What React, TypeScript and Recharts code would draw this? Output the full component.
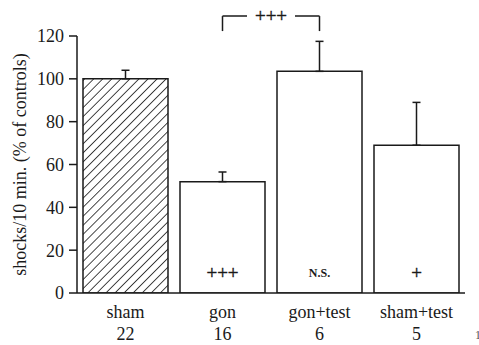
import { BarChart, Bar, XAxis, YAxis, ErrorBar, Cell, LabelList, ReferenceLine } from 'recharts'

const GROUPS = ['sham', 'gon', 'gon+test', 'sham+test']
const COUNTS = ['22', '16', '6', '5']
const MEANS = [100, 52, 103.5, 69]
const ERRORS = [4, 4.5, 14, 20]
const MARKS = ['', '+++', 'N.S.', '+']
const Y_TICKS = [0, 20, 40, 60, 80, 100, 120]

const data = GROUPS.map((g, i) => ({
  name: g,
  value: MEANS[i],
  err: [0, ERRORS[i]],
  mark: MARKS[i],
}))

const FONT = '"Liberation Serif", "Times New Roman", serif'
const INK = '#1a1a1a'

function GroupTick({ x, y, payload, index }: any) {
  return (
    <g>
      <text x={x} y={y + 17} textAnchor="middle" fontFamily={FONT} fontSize={18} fill={INK}>
        {payload.value}
      </text>
      <text x={x} y={y + 39} textAnchor="middle" fontFamily={FONT} fontSize={18} fill={INK}>
        {COUNTS[index]}
      </text>
    </g>
  )
}

function MarkLabel({ x, y, width, height, value }: any) {
  if (!value) return null
  const small = value === 'N.S.'
  return (
    <text
      x={x + width / 2} y={y + height - (small ? 16 : 14)}
      textAnchor="middle" fontFamily={FONT}
      fontSize={small ? 12 : 19} fontWeight={small ? 700 : 400} fill={INK}
      stroke={small ? 'none' : INK} strokeWidth={0.4}
    >{value}</text>
  )
}

function BracketLabel({ viewBox }: any) {
  const cx = viewBox.x + viewBox.width / 2
  const cy = viewBox.y
  return (
    <g>
      <rect x={cx - 24} y={cy - 6} width={48} height={12} fill="white" />
      <text x={cx} y={cy + 6} textAnchor="middle" fontFamily={FONT} fontSize={19}
        fill={INK} stroke={INK} strokeWidth={0.4}>+++</text>
    </g>
  )
}

function YLabel({ viewBox }: any) {
  const cx = viewBox.x + 20
  const cy = viewBox.y + viewBox.height / 2
  return (
    <text
      x={cx} y={cy} transform={`rotate(-90, ${cx}, ${cy})`}
      textAnchor="middle" dominantBaseline="central"
      fontFamily={FONT} fontSize={18} fill={INK}
    >shocks/10 min. (% of controls)</text>
  )
}

export default function App() {
  return (
    <div style={{ position: 'absolute', left: 0, top: 0, width: 479, height: 345, background: 'white', overflow: 'hidden' }}>
      <svg width={0} height={0} style={{ position: 'absolute' }}>
        <defs>
          <pattern id="hatch" patternUnits="userSpaceOnUse" width={6.4} height={6.4} patternTransform="rotate(45)">
            <line x1={0} y1={0} x2={0} y2={6.4} stroke={INK} strokeWidth={1.6} />
          </pattern>
        </defs>
      </svg>
      <BarChart
        width={479} height={345} data={data}
        margin={{ top: 36, right: 14, left: 0, bottom: 0 }}
      >
        <XAxis
          dataKey="name" height={52}
          axisLine={{ stroke: INK, strokeWidth: 1.5 }} tickLine={false}
          tick={<GroupTick />} interval={0}
        />
        <YAxis
          width={77} domain={[0, 120]} ticks={Y_TICKS} allowDataOverflow
          axisLine={{ stroke: INK, strokeWidth: 1.5 }}
          tickLine={{ stroke: INK, strokeWidth: 1.5 }} tickSize={8} tickMargin={5}
          tick={{ fontFamily: FONT, fontSize: 18, fill: INK }}
          label={<YLabel />}
        />
        <Bar dataKey="value" barSize={85} stroke={INK} strokeWidth={1.5} isAnimationActive={false}>
          {data.map((d, i) => (
            <Cell key={d.name} fill={i === 0 ? 'url(#hatch)' : 'white'} />
          ))}
          <ErrorBar dataKey="err" direction="y" width={4} stroke={INK} strokeWidth={1.5} isAnimationActive={false} />
          <LabelList dataKey="mark" content={<MarkLabel />} />
        </Bar>
        {/* significance bracket gon vs gon+test */}
        <ReferenceLine
          segment={[{ x: 'gon', y: 129.3 }, { x: 'gon+test', y: 129.3 }]}
          stroke={INK} strokeWidth={1.5} ifOverflow="visible"
          label={<BracketLabel />}
        />
        <ReferenceLine
          segment={[{ x: 'gon', y: 129.3 }, { x: 'gon', y: 122.3 }]}
          stroke={INK} strokeWidth={1.5} ifOverflow="visible"
        />
        <ReferenceLine
          segment={[{ x: 'gon+test', y: 129.3 }, { x: 'gon+test', y: 122.3 }]}
          stroke={INK} strokeWidth={1.5} ifOverflow="visible"
        />
      </BarChart>
      <span style={{
        position: 'absolute', left: 475, top: 328, fontFamily: FONT, fontSize: 12, color: '#555',
      }}>1</span>
    </div>
  )
}
